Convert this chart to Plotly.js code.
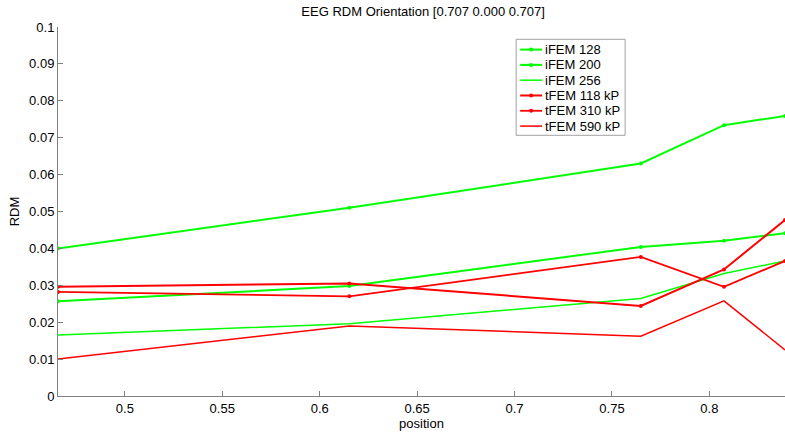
<!DOCTYPE html>
<html>
<head>
<meta charset="utf-8">
<script src="https://cdn.plot.ly/plotly-3.0.1.min.js"></script>
<style>html,body{margin:0;padding:0;background:#fff;}#chart{width:785px;height:434px;}</style>
</head>
<body>
<div id="chart"></div>
<script>
const positions = [0.4657, 0.6152, 0.7648, 0.8075, 0.8388];
const seriesNames = ["iFEM 128", "iFEM 200", "iFEM 256", "tFEM 118 kP", "tFEM 310 kP", "tFEM 590 kP"];
const iFEM128 = [0.0400, 0.0510, 0.0630, 0.0734, 0.0759];
const iFEM200 = [0.0257, 0.0298, 0.0404, 0.0421, 0.0441];
const iFEM256 = [0.0165, 0.0196, 0.0264, 0.0332, 0.0366];
const tFEM118 = [0.0296, 0.0305, 0.0244, 0.0343, 0.0477];
const tFEM310 = [0.0282, 0.0270, 0.0377, 0.0296, 0.0366];
const tFEM590 = [0.0100, 0.0190, 0.0162, 0.0258, 0.0125];
const xTicks = [0.5, 0.55, 0.6, 0.65, 0.7, 0.75, 0.8];
const yTicks = [0, 0.01, 0.02, 0.03, 0.04, 0.05, 0.06, 0.07, 0.08, 0.09, 0.1];

const values = [iFEM128, iFEM200, iFEM256, tFEM118, tFEM310, tFEM590];
const colors = ["#00ff00", "#00ff00", "#00ff00", "#ff0000", "#ff0000", "#ff0000"];
const widths = [2, 2, 1.5, 2, 1.8, 1.5];
const marks = [4, 4, 0, 4, 4, 0];

const traces = values.map((v, i) => ({
  x: positions, y: v, name: seriesNames[i], type: "scatter",
  mode: marks[i] ? "lines+markers" : "lines",
  line: {color: colors[i], width: widths[i]},
  marker: {color: colors[i], size: marks[i], symbol: "circle"},
  showlegend: false
}));

const fam = "Liberation Sans, Arial, sans-serif";
const axisFont = {family: fam, size: 13, color: "#000"};

// Compact MATLAB-style legend box (pixel offsets from its top-left corner)
const legX = 0.6302, legY = 0.9667;
const shapes = [{type: "rect", xref: "paper", yref: "paper", xsizemode: "pixel", ysizemode: "pixel",
  xanchor: legX, yanchor: legY, x0: 0, x1: 109, y0: 0, y1: -96,
  line: {color: "#a0a0a0", width: 1}, fillcolor: "#fff", layer: "above"}];
const annotations = [];
seriesNames.forEach((name, i) => {
  const off = -(10.3 + 15.3 * i);
  shapes.push({type: "line", xref: "paper", yref: "paper", xsizemode: "pixel", ysizemode: "pixel",
    xanchor: legX, yanchor: legY, x0: 4, x1: 26, y0: off, y1: off,
    line: {color: colors[i], width: widths[i]}, layer: "above"});
  if (marks[i]) {
    shapes.push({type: "circle", xref: "paper", yref: "paper", xsizemode: "pixel", ysizemode: "pixel",
      xanchor: legX, yanchor: legY, x0: 13, x1: 17, y0: off - 2, y1: off + 2,
      line: {color: colors[i], width: 0}, fillcolor: colors[i], layer: "above"});
  }
  annotations.push({xref: "paper", yref: "paper", x: legX, y: legY, xshift: 27, yshift: off,
    xanchor: "left", yanchor: "middle", showarrow: false, text: name, font: axisFont});
});

const layout = {
  width: 785, height: 434,
  margin: {l: 57.5, r: 0, t: 26.7, b: 38},
  paper_bgcolor: "#fff", plot_bgcolor: "#fff",
  font: axisFont,
  title: {text: "EEG RDM Orientation [0.707 0.000 0.707]", font: axisFont, x: 0.539, xanchor: "center", y: 0.985, yanchor: "top"},
  showlegend: false,
  shapes: shapes,
  annotations: annotations,
  xaxis: {range: [positions[0], positions[positions.length - 1]], tickvals: xTicks, ticktext: xTicks.map(String),
    showgrid: false, zeroline: false, showline: true, linecolor: "#808080", linewidth: 1,
    ticks: "inside", ticklen: 5, tickcolor: "#808080",
    title: {text: "position", font: axisFont, standoff: 0}},
  yaxis: {range: [0, 0.1], tickvals: yTicks, ticktext: yTicks.map(String),
    showgrid: false, zeroline: false, showline: true, linecolor: "#808080", linewidth: 1,
    ticks: "inside", ticklen: 5, tickcolor: "#808080",
    title: {text: "RDM", font: axisFont, standoff: 6}}
};
Plotly.newPlot("chart", traces, layout, {displayModeBar: false, staticPlot: true});
</script>
</body>
</html>
